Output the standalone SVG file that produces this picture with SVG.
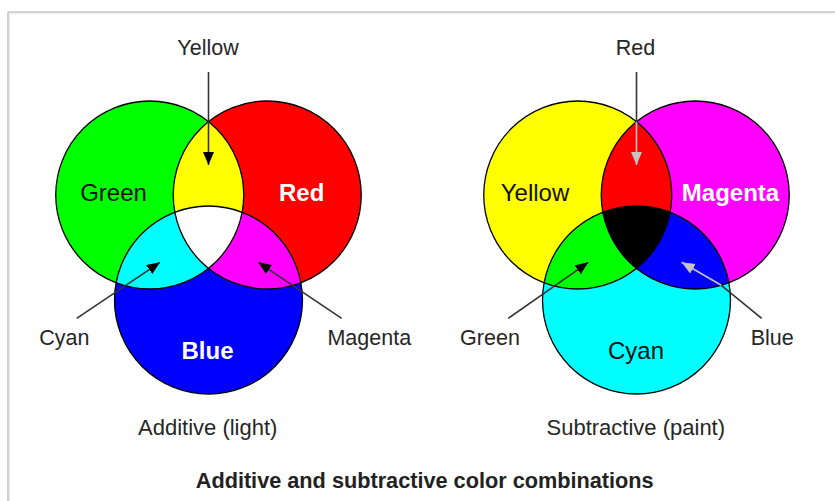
<svg xmlns="http://www.w3.org/2000/svg" width="835" height="501" viewBox="0 0 835 501">
  <style>
    .outline { fill: none; stroke: #000; stroke-width: 1.3; }
    .lbl { font-family: "Liberation Sans", Arial, sans-serif; font-size: 21.5px; fill: #262626; text-anchor: middle; }
    .inner { font-family: "Liberation Sans", Arial, sans-serif; font-size: 24px; text-anchor: middle; }
    .dark { fill: #111; }
    .light { fill: #fff; font-weight: bold; }
    .cap { font-family: "Liberation Sans", Arial, sans-serif; font-size: 22px; fill: #262626; text-anchor: middle; }
    .title { font-family: "Liberation Sans", Arial, sans-serif; font-size: 21.7px; font-weight: bold; fill: #222; text-anchor: middle; }
    .conn { stroke: #333; stroke-width: 1.6; fill: none; }
    .conn-light { stroke: #c4c4c4; stroke-width: 1.6; fill: none; }
  </style>
  <defs>
    <marker id="arrowBlack" markerUnits="userSpaceOnUse" markerWidth="14" markerHeight="12" refX="13" refY="5.5" orient="auto">
      <path d="M0,0 L13,5.5 L0,11 z" fill="#000"/>
    </marker>
    <marker id="arrowGray" markerUnits="userSpaceOnUse" markerWidth="14" markerHeight="12" refX="13" refY="5.5" orient="auto">
      <path d="M0,0 L13,5.5 L0,11 z" fill="#c4c4c4"/>
    </marker>
    <clipPath id="clipG"><circle cx="149.75" cy="195" r="94"/></clipPath>
    <clipPath id="clipR"><circle cx="267.25" cy="195" r="94"/></clipPath>
    <clipPath id="clipB"><circle cx="208.5" cy="300" r="94"/></clipPath>
    <clipPath id="clipY"><circle cx="577.75" cy="195" r="94"/></clipPath>
    <clipPath id="clipM"><circle cx="695.25" cy="195" r="94"/></clipPath>
    <clipPath id="clipC"><circle cx="636.5" cy="300" r="94"/></clipPath>
  </defs>

  <rect width="835" height="501" fill="#fff"/>
  <g id="frame">
    <line x1="8" y1="12" x2="835" y2="12" stroke="#c4c4c4" stroke-width="1.6"/>
    <line x1="8" y1="13.5" x2="835" y2="13.5" stroke="#ececec" stroke-width="1"/>
    <line x1="8" y1="12" x2="8" y2="501" stroke="#c4c4c4" stroke-width="1.6"/>
    <line x1="9.5" y1="13" x2="9.5" y2="501" stroke="#ececec" stroke-width="1"/>
  </g>

  <!-- Additive diagram -->
  <g id="additive">
    <g id="node-green"><circle cx="149.75" cy="195" r="94" fill="#00ff00"/></g>
    <g id="node-red"><circle cx="267.25" cy="195" r="94" fill="#ff0000"/></g>
    <g id="node-blue"><circle cx="208.5" cy="300" r="94" fill="#0000ff"/></g>
    <g id="node-yellow-mix" clip-path="url(#clipG)"><circle cx="267.25" cy="195" r="94" fill="#ffff00"/></g>
    <g id="node-cyan-mix" clip-path="url(#clipG)"><circle cx="208.5" cy="300" r="94" fill="#00ffff"/></g>
    <g id="node-magenta-mix" clip-path="url(#clipR)"><circle cx="208.5" cy="300" r="94" fill="#ff00ff"/></g>
    <g id="node-white-mix" clip-path="url(#clipG)"><g clip-path="url(#clipR)"><circle cx="208.5" cy="300" r="94" fill="#ffffff"/></g></g>
    <g id="additive-outlines">
      <circle class="outline" cx="149.75" cy="195" r="94"/>
      <circle class="outline" cx="267.25" cy="195" r="94"/>
      <circle class="outline" cx="208.5" cy="300" r="94"/>
    </g>
    <text class="inner dark" x="113.5" y="201">Green</text>
    <text class="inner light" x="301.7" y="201">Red</text>
    <text class="inner light" x="207.5" y="359">Blue</text>
  </g>

  <!-- Subtractive diagram -->
  <g id="subtractive">
    <g id="node-yellow"><circle cx="577.75" cy="195" r="94" fill="#ffff00"/></g>
    <g id="node-magenta"><circle cx="695.25" cy="195" r="94" fill="#ff00ff"/></g>
    <g id="node-cyan"><circle cx="636.5" cy="300" r="94" fill="#00ffff"/></g>
    <g id="node-red-mix" clip-path="url(#clipY)"><circle cx="695.25" cy="195" r="94" fill="#ff0000"/></g>
    <g id="node-green-mix" clip-path="url(#clipY)"><circle cx="636.5" cy="300" r="94" fill="#00ff00"/></g>
    <g id="node-blue-mix" clip-path="url(#clipM)"><circle cx="636.5" cy="300" r="94" fill="#0000ff"/></g>
    <g id="node-black-mix" clip-path="url(#clipY)"><g clip-path="url(#clipM)"><circle cx="636.5" cy="300" r="94" fill="#000000"/></g></g>
    <g id="subtractive-outlines">
      <circle class="outline" cx="577.75" cy="195" r="94"/>
      <circle class="outline" cx="695.25" cy="195" r="94"/>
      <circle class="outline" cx="636.5" cy="300" r="94"/>
    </g>
    <text class="inner dark" x="535" y="201">Yellow</text>
    <text class="inner light" x="730.5" y="201">Magenta</text>
    <text class="inner dark" x="636" y="359">Cyan</text>
  </g>

  <!-- Connectors -->
  <g id="connectors">
    <line class="conn" x1="208.5" y1="72" x2="208.5" y2="165" marker-end="url(#arrowBlack)"/>
    <line class="conn" x1="76.7" y1="318.3" x2="160" y2="262.3" marker-end="url(#arrowBlack)"/>
    <line class="conn" x1="341.7" y1="318.3" x2="258.3" y2="262.3" marker-end="url(#arrowBlack)"/>
    <line class="conn" x1="636.5" y1="72" x2="636.5" y2="121.8"/>
    <line class="conn-light" x1="636.5" y1="121.8" x2="636.5" y2="165" marker-end="url(#arrowGray)"/>
    <line class="conn" x1="508.3" y1="318.3" x2="588.3" y2="262.3" marker-end="url(#arrowBlack)"/>
    <line class="conn" x1="761.7" y1="318.3" x2="721.3" y2="285.3"/>
    <line class="conn-light" x1="721.3" y1="285.3" x2="681.7" y2="262.3" marker-end="url(#arrowGray)"/>
  </g>

  <!-- Labels -->
  <g id="labels">
    <text class="lbl" x="208" y="55">Yellow</text>
    <text class="lbl" x="64.3" y="345">Cyan</text>
    <text class="lbl" x="369.3" y="345">Magenta</text>
    <text class="cap" x="207.7" y="435">Additive (light)</text>
    <text class="lbl" x="635.5" y="55">Red</text>
    <text class="lbl" x="490" y="345">Green</text>
    <text class="lbl" x="772.2" y="345">Blue</text>
    <text class="cap" x="635.8" y="435">Subtractive (paint)</text>
    <text class="title" x="424.7" y="487.5">Additive and subtractive color combinations</text>
  </g>
</svg>
